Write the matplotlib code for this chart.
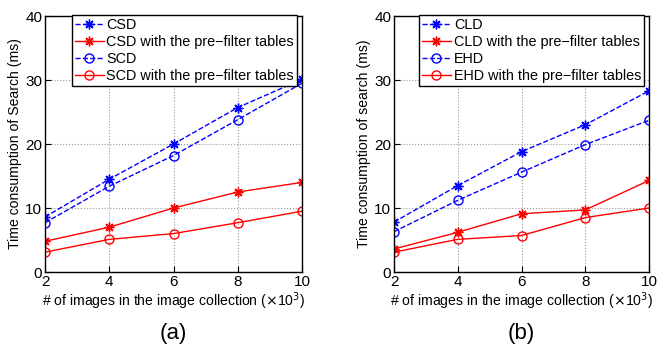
import numpy as np
import matplotlib
matplotlib.use('Agg')
import matplotlib.pyplot as plt

plt.rcParams['font.family'] = ['Liberation Sans', 'DejaVu Sans']

# number of images (x10^3)
x = [2, 4, 6, 8, 10]

# panel (a)
csd = [8.6, 14.5, 20.0, 25.7, 30.1]
csd_pf = [4.8, 7.0, 10.0, 12.5, 14.0]
scd = [7.7, 13.4, 18.2, 23.8, 29.5]
scd_pf = [3.1, 5.1, 6.0, 7.7, 9.5]

# panel (b)
cld = [7.8, 13.5, 18.8, 23.0, 28.3]
cld_pf = [3.6, 6.2, 9.1, 9.7, 14.3]
ehd = [6.3, 11.2, 15.6, 19.9, 23.7]
ehd_pf = [3.1, 5.1, 5.7, 8.5, 10.0]

W, H = 658, 354
fig = plt.figure(figsize=(W / 100, H / 100), dpi=100)

star = (8, 2, 0)  # matlab-like asterisk


def panel(rect, a, a_pf, b, b_pf, na, nb, ylab, cap):
    ax = fig.add_axes(rect)
    ax.plot(x, a, 'b--', marker=star, lw=1, ms=7, label=na)
    ax.plot(x, a_pf, 'r-', marker=star, lw=1, ms=7, label=na + ' with the pre\u2212filter tables')
    ax.plot(x, b, 'b--o', lw=1, ms=6.5, mfc='none', label=nb)
    ax.plot(x, b_pf, 'r-o', lw=1, ms=6.5, mfc='none', label=nb + ' with the pre\u2212filter tables')
    ax.set_xlim(2, 10)
    ax.set_ylim(0, 40)
    ax.set_xticks(x)
    ax.set_yticks([0, 10, 20, 30, 40])
    ax.tick_params(direction='in', labelsize=11, length=4, pad=2)
    ax.grid(True, ls=':', color='#999999', lw=0.8)
    for s in ax.spines.values():
        s.set_linewidth(1)
    ax.set_xlabel(r'# of images in the image collection ($\times$10$^3$)', fontsize=10.1, labelpad=1)
    ax.set_ylabel(ylab, fontsize=10.1, labelpad=2)
    leg = ax.legend(loc='upper right', bbox_to_anchor=(1 - 5 / 257, 1.004),
                    fontsize=10.4, fancybox=False, framealpha=1,
                    edgecolor='black', borderpad=0.2, labelspacing=0.22,
                    handlelength=2.0, handletextpad=0.2, borderaxespad=0)
    leg.get_frame().set_linewidth(1)
    ax.text(0.5, -0.24, cap, transform=ax.transAxes, ha='center', va='center', fontsize=16)
    return ax


panel([45 / W, 82 / H, 257 / W, 256 / H], csd, csd_pf, scd, scd_pf, 'CSD', 'SCD',
      'Time consumption of Search (ms)', '(a)')
panel([394 / W, 82 / H, 255 / W, 256 / H], cld, cld_pf, ehd, ehd_pf, 'CLD', 'EHD',
      'Time consumption of search (ms)', '(b)')

fig.savefig('out.png', dpi=100)
